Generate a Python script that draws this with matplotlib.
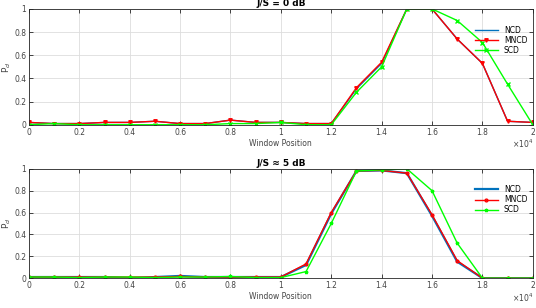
import matplotlib
matplotlib.use("Agg")
import matplotlib.pyplot as plt
import numpy as np

positions = [0, 0.1, 0.2, 0.3, 0.4, 0.5, 0.6, 0.7, 0.8, 0.9, 1.0,
             1.1, 1.2, 1.3, 1.4, 1.5, 1.6, 1.7, 1.8, 1.9, 2.0]

ncd_0 = [0.02, 0.01, 0.01, 0.02, 0.02, 0.03, 0.01, 0.01, 0.04, 0.02, 0.02,
         0.01, 0.01, 0.31, 0.53, 1.0, 1.0, 0.74, 0.53, 0.03, 0.02]
mncd_0 = [0.02, 0.01, 0.01, 0.02, 0.02, 0.03, 0.01, 0.01, 0.04, 0.02, 0.02,
          0.01, 0.01, 0.32, 0.54, 1.0, 1.0, 0.74, 0.53, 0.03, 0.02]
scd_0 = [0.0, 0.01, 0.0, 0.0, 0.0, 0.0, 0.0, 0.0, 0.01, 0.01, 0.02,
         0.0, 0.0, 0.28, 0.5, 1.0, 1.0, 0.9, 0.71, 0.35, 0.0]

ncd_5 = [0.01, 0.01, 0.01, 0.01, 0.0, 0.01, 0.02, 0.01, 0.01, 0.01, 0.01,
         0.12, 0.59, 0.98, 0.985, 0.96, 0.57, 0.15, 0.0, 0.0, 0.0]
mncd_5 = [0.01, 0.01, 0.01, 0.01, 0.01, 0.01, 0.015, 0.01, 0.01, 0.01, 0.01,
          0.13, 0.6, 0.98, 0.985, 0.96, 0.58, 0.16, 0.0, 0.0, 0.0]
scd_5 = [0.01, 0.01, 0.005, 0.01, 0.01, 0.005, 0.01, 0.01, 0.015, 0.005, 0.005,
         0.06, 0.5, 0.98, 0.99, 1.0, 0.8, 0.32, 0.0, 0.0, 0.0]

xticks = [0, 0.2, 0.4, 0.6, 0.8, 1, 1.2, 1.4, 1.6, 1.8, 2]
xticklabels = ["0", "0.2", "0.4", "0.6", "0.8", "1", "1.2", "1.4", "1.6", "1.8", "2"]
yticks = [0, 0.2, 0.4, 0.6, 0.8, 1]
yticklabels = ["0", "0.2", "0.4", "0.6", "0.8", "1"]

fig = plt.figure(figsize=(5.36, 3.08), dpi=100)
ax1 = fig.add_axes([0.054, 0.595, 0.940, 0.376])
ax2 = fig.add_axes([0.054, 0.097, 0.940, 0.355])

blue = (0, 0.447, 0.741)

def style(ax, title, ylabel):
    ax.set_xlim(0, 2)
    ax.set_ylim(0, 1)
    ax.set_xticks(xticks)
    ax.set_xticklabels(xticklabels)
    ax.set_yticks(yticks)
    ax.set_yticklabels(yticklabels)
    ax.tick_params(direction="in", labelsize=5.5, length=3, width=0.6, pad=2,
                   top=True, right=True, colors="#262626", labelcolor="#444444")
    ax.grid(True, color="#dddddd", linewidth=0.6)
    ax.set_axisbelow(True)
    for s in ax.spines.values():
        s.set_linewidth(0.6)
        s.set_color("#262626")
    ax.set_title(title, fontsize=6.5, fontweight="bold", pad=2)
    ax.set_xlabel("Window Position", fontsize=5.5, labelpad=1.5, color="#444444")
    ax.set_ylabel(ylabel, fontsize=6.5, labelpad=1, color="#444444")
    ax.annotate(r"$\times10^4$", xy=(1.0, 0), xycoords="axes fraction",
                xytext=(0, -9.5), textcoords="offset points", ha="right",
                va="top", fontsize=5.5, color="#444444")

ax1.plot(positions, ncd_0, color=blue, lw=1.0, label="NCD")
ax1.plot(positions, mncd_0, color="red", lw=1.0, marker="v", ms=2.5, label="MNCD")
ax1.plot(positions, scd_0, color="#00ff00", lw=1.0, marker="x", ms=2.5, label="SCD")
style(ax1, "J/S = 0 dB", r"P$_{d}$")
ax1.legend(loc="upper right", fontsize=5.5, frameon=False, handlelength=3,
           borderaxespad=0.3, labelspacing=0.15, bbox_to_anchor=(1.0, 0.9))

ax2.plot(positions, ncd_5, color=blue, lw=1.6, label="NCD")
ax2.plot(positions, mncd_5, color="red", lw=1.0, marker="o", ms=2, mfc="none", label="MNCD")
ax2.plot(positions, scd_5, color="#00ff00", lw=1.0, marker="*", ms=2.5, label="SCD")
style(ax2, "J/S \u2248 5 dB", r"P$_{d}$")
ax2.legend(loc="upper right", fontsize=5.5, frameon=False, handlelength=3,
           borderaxespad=0.3, labelspacing=0.15, bbox_to_anchor=(1.0, 0.9))

fig.savefig("out.png", dpi=100)
